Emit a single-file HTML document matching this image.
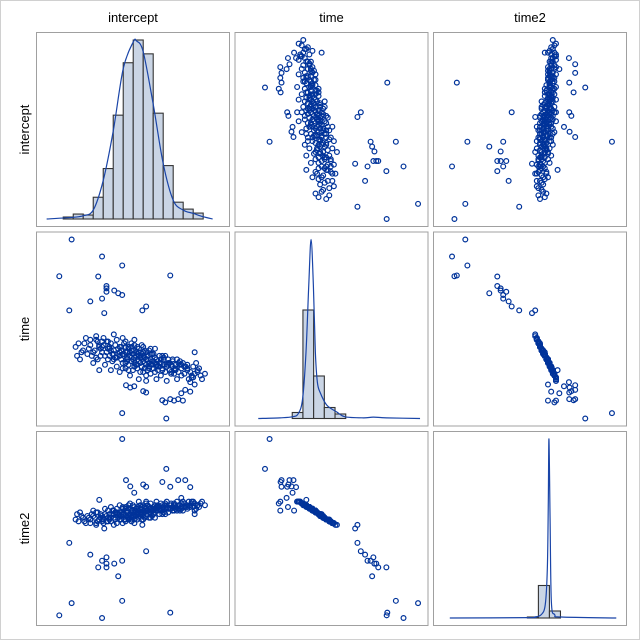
<!DOCTYPE html>
<html><head><meta charset="utf-8"><style>
html,body{margin:0;padding:0;background:#fff}
svg{display:block;font-family:"Liberation Sans",sans-serif}
</style></head><body>
<svg id="chart" width="640" height="640" viewBox="0 0 640 640" xmlns="http://www.w3.org/2000/svg">
<rect x="0.5" y="0.5" width="639" height="639" fill="#fff" stroke="#d0d0d0"/>
<g id="panels"></g>
</svg>
<script>
// variable names
const varNames = ["intercept","time","time2"];
// observations (normalized values)
const interceptVals = [0.093,0.30,0.437,0.009,0.274,0.764,0.33,0.33,0.33,0.383,0.41,0.437,0.30,0.22,0.60,0.077,0.574,0.315,0.281,0.437,0.737,0.764,0.818,0.71,0.58,0.60,0.839,0.866,0.90,0.463,0.492,0.519,
0.12,0.18,0.20,0.22,0.25,0.27,0.28,0.30,0.31,0.32,0.34,0.35,0.36,0.37,0.38,0.39,0.40,0.40,0.41,0.42,0.43,0.43,0.44,0.45,0.45,0.46,0.47,0.47,0.48,0.48,0.49,0.50,0.50,0.51,0.51,0.52,0.52,0.53,0.53,0.54,0.54,0.55,0.55,0.56,0.56,0.57,0.57,0.58,0.58,0.59,0.59,0.60,0.60,0.61,0.61,0.62,0.62,0.63,0.63,0.64,0.64,0.65,0.65,0.66,0.66,0.67,0.68,0.68,0.69,0.70,0.70,0.71,0.72,0.73,0.74,0.75,0.76,0.77,0.78,0.79,0.80,0.82,0.84,0.86,0.88,0.90,0.93,0.97,0.15,0.17,0.24,0.26,0.29,0.33,0.36,0.38,0.42,0.44,0.46,0.49,0.52,0.55,0.57,0.60,0.63,0.67,0.71,0.74,0.78,0.81,0.85,0.89,0.92,0.95,1.00,0.93,0.90,0.85,0.93,0.79,0.73,
0.45,0.47,0.49,0.51,0.53,0.55,0.57,0.59,0.61,0.63,0.41,0.39,0.37,0.35,0.33,0.31,0.29,0.27,0.65,0.67,0.69,0.72,0.75,0.77,0.80,0.83,0.44,0.48,0.52,0.56,0.60,0.46,0.50,0.54,0.58,0.62,0.21,0.23,0.19,
0.24,0.28,0.32,0.36,0.40,0.44,0.48,0.52,0.56,0.60,0.64,0.68,0.72,0.76,0.80,0.84,0.88,0.26,0.30,0.34,0.38,0.42,0.46,0.50,0.54,0.58,0.62,0.66,0.70,0.74,0.78,0.82,0.86,0.91,0.35,0.39,0.43,0.47,0.51,0.55,0.59,0.63,0.67,0.71,0.75,0.79,0.83,0.87,0.91,0.95,0.98,0.96,0.94,0.92,0.88,0.84,0.81,0.77,0.73,0.69,0.66,0.62,0.58,0.54,0.50,0.46,0.42,0.38,0.34,0.30,0.26,0.22,0.16,0.14,0.13];
const timeVals = [1.0,0.905,0.855,0.795,0.793,0.799,0.74,0.727,0.708,0.715,0.70,0.69,0.67,0.654,0.626,0.604,0.604,0.589,0.27,0.03,0.0,0.108,0.108,0.102,0.153,0.145,0.141,0.16,0.203,0.186,0.173,0.18,
0.40,0.42,0.36,0.44,0.38,0.33,0.41,0.37,0.45,0.30,0.39,0.35,0.42,0.32,0.38,0.34,0.44,0.29,0.36,0.40,0.33,0.38,0.31,0.35,0.42,0.28,0.37,0.33,0.40,0.30,0.35,0.38,0.32,0.27,0.36,0.41,0.34,0.30,0.37,0.33,0.28,0.35,0.39,0.31,0.34,0.29,0.36,0.32,0.26,0.34,0.38,0.30,0.33,0.27,0.35,0.31,0.29,0.33,0.25,0.30,0.36,0.28,0.32,0.26,0.34,0.30,0.27,0.32,0.29,0.24,0.31,0.28,0.33,0.26,0.29,0.31,0.27,0.25,0.29,0.27,0.30,0.26,0.28,0.25,0.27,0.26,0.25,0.24,0.33,0.38,0.31,0.46,0.35,0.43,0.27,0.47,0.26,0.45,0.40,0.24,0.44,0.22,0.41,0.21,0.39,0.22,0.35,0.21,0.32,0.22,0.31,0.22,0.29,0.27,0.25,0.19,0.15,0.10,0.37,0.10,0.09,
0.36,0.34,0.37,0.33,0.35,0.32,0.34,0.31,0.33,0.30,0.39,0.41,0.36,0.40,0.37,0.41,0.39,0.43,0.36,0.33,0.35,0.30,0.33,0.30,0.28,0.30,0.28,0.27,0.29,0.26,0.24,0.43,0.42,0.40,0.37,0.38,0.39,0.35,0.45,
0.37,0.40,0.35,0.38,0.34,0.36,0.39,0.31,0.35,0.37,0.32,0.29,0.34,0.31,0.27,0.30,0.28,0.34,0.43,0.33,0.36,0.37,0.31,0.40,0.36,0.35,0.29,0.31,0.33,0.30,0.33,0.31,0.29,0.24,0.39,0.34,0.40,0.32,0.38,0.37,0.28,0.36,0.29,0.27,0.30,0.25,0.32,0.29,0.23,0.26,0.22,0.28,0.31,0.23,0.30,0.24,0.33,0.26,0.35,0.31,0.39,0.28,0.40,0.30,0.34,0.37,0.35,0.33,0.43,0.40,0.44,0.41,0.37,0.42,0.35];
const time2Vals = [0.083,0.0,0.096,0.015,0.283,0.03,0.283,0.304,0.339,0.304,0.233,0.32,0.32,0.354,0.373,0.42,0.52,0.50,0.66,1.0,0.833,0.733,0.77,0.76,0.746,0.733,0.671,0.77,0.731,0.77,0.735,0.70,
0.55,0.54,0.57,0.53,0.56,0.59,0.55,0.57,0.53,0.61,0.56,0.58,0.54,0.60,0.56,0.59,0.53,0.61,0.58,0.55,0.59,0.57,0.61,0.58,0.55,0.62,0.57,0.60,0.55,0.61,0.58,0.56,0.60,0.63,0.57,0.55,0.59,0.61,0.57,0.59,0.62,0.58,0.56,0.61,0.59,0.62,0.58,0.60,0.63,0.59,0.56,0.61,0.60,0.63,0.58,0.61,0.62,0.59,0.64,0.61,0.57,0.62,0.60,0.63,0.59,0.61,0.63,0.60,0.62,0.64,0.61,0.62,0.59,0.63,0.62,0.61,0.63,0.64,0.62,0.63,0.61,0.63,0.62,0.64,0.63,0.63,0.64,0.64,0.59,0.56,0.60,0.52,0.58,0.54,0.62,0.52,0.63,0.53,0.55,0.64,0.53,0.65,0.55,0.65,0.56,0.65,0.58,0.65,0.60,0.65,0.60,0.65,0.62,0.63,0.63,0.60,0.62,0.65,0.58,0.60,0.64,
0.58,0.59,0.57,0.60,0.58,0.60,0.59,0.61,0.60,0.61,0.56,0.55,0.58,0.55,0.57,0.55,0.56,0.54,0.58,0.60,0.58,0.61,0.59,0.61,0.62,0.61,0.62,0.63,0.62,0.63,0.64,0.54,0.54,0.55,0.57,0.56,0.56,0.58,0.53,
0.57,0.55,0.58,0.56,0.59,0.58,0.56,0.60,0.58,0.57,0.60,0.62,0.59,0.61,0.63,0.61,0.62,0.59,0.54,0.60,0.58,0.57,0.61,0.55,0.58,0.58,0.62,0.61,0.60,0.61,0.60,0.61,0.62,0.64,0.56,0.59,0.55,0.60,0.57,0.57,0.62,0.58,0.62,0.63,0.61,0.64,0.60,0.62,0.65,0.63,0.65,0.62,0.61,0.65,0.61,0.64,0.60,0.63,0.58,0.61,0.56,0.62,0.55,0.61,0.59,0.57,0.58,0.60,0.54,0.55,0.53,0.55,0.57,0.54,0.58];
// x-axis domains per column (normalized units)
const xDomIntercept = [-0.095,1.116];
const xDomTime = [-0.147,1.016];
const xDomTime2 = [-0.069,1.044];
// histogram bins: start, width, percents
const hist1Start = 0.036, hist1Width = 0.068;
const hist1Pct = [0.2,0.5,0.4,2.2,5.1,10.5,15.8,18.1,16.7,10.7,5.4,1.7,1.0,0.6];
const hist2Start = 0.178, hist2Width = 0.0699;
const hist2Pct = [1.2,21.7,8.5,2.2,0.9];
const hist3Start = 0.471, hist3Width = 0.069;
const hist3Pct = [0.2,6.5,1.4];
// density curves
const kde1X = [-0.077,0.104,0.172,0.240,0.308,0.376,0.444,0.512,0.535,0.580,0.648,0.716,0.784,0.852,0.920,0.988,1.052];
const kde1Y = [0,0.17,0.33,0.9,3.9,8.9,15.2,17.9,18.0,16.9,11.6,5.6,1.9,0.9,0.57,0.23,0];
const kde2X = [-0.044,0.098,0.178,0.218,0.246,0.268,0.286,0.301,0.316,0.329,0.342,0.359,0.403,0.469,0.523,0.643,0.708,0.795,1.013];
const kde2Y = [0,0.13,0.33,1,4,13.3,26.7,35.8,26.7,13.3,7.3,5.3,2.7,1.3,0.33,0.13,0.27,0.13,0];
const kde3X = [-0.014,0.475,0.517,0.558,0.583,0.596,0.602,0.606,0.613,0.621,0.642,0.683,1.027];
const kde3Y = [0,0.07,0.2,0.67,2.7,10,23.3,35.8,20,3.3,0.67,0.2,0];

const NS = "http://www.w3.org/2000/svg";
const root = document.getElementById("panels");
const PX = [36,234.5,433], PY = [32,231.5,431], W = 194, H = 195, PAD = 8;
const data = [interceptVals, timeVals, time2Vals];
const xDoms = [xDomIntercept, xDomTime, xDomTime2];
const hists = [[hist1Start,hist1Width,hist1Pct],[hist2Start,hist2Width,hist2Pct],[hist3Start,hist3Width,hist3Pct]];
const kdes = [[kde1X,kde1Y],[kde2X,kde2Y],[kde3X,kde3Y]];

function mk(tag, attrs, parent){const e=document.createElementNS(NS,tag);for(const k in attrs)e.setAttribute(k,attrs[k]);(parent||root).appendChild(e);return e;}
function xScale(j,v){const d=xDoms[j];return PX[j]+PAD+(v-d[0])/(d[1]-d[0])*(W-2*PAD);}
function yScaleData(i,v){const arr=data[i];const mn=Math.min(...arr),mx=Math.max(...arr);return PY[i]+H-PAD-(v-mn)/(mx-mn)*(H-2*PAD);}

for(let j=0;j<3;j++){
  const t=mk("text",{x:PX[j]+W/2,y:22,"text-anchor":"middle","font-size":"13",fill:"#000"});
  
  
  t.textContent=varNames[j];
}
for(let i=0;i<3;i++){
  const cy=PY[i]+H/2;
  const t=mk("text",{x:29,y:cy,"text-anchor":"middle","font-size":"13",fill:"#000",transform:`rotate(-90 29 ${cy})`});
  
  
  t.textContent=varNames[i];
}

for(let i=0;i<3;i++){
  for(let j=0;j<3;j++){
    const g=mk("g",{});
    
    
    const fr=mk("rect",{x:PX[j]+0.5,y:PY[i]+0.5,width:W-1,height:H-1,fill:"#fff",stroke:"#a0a0a0","stroke-width":1},g);
    
    
    if(i===j){
      const [st,wd,pct]=hists[i];const [kx,ky]=kdes[i];
      const ymax=Math.max(...pct,...ky);
      const base=PY[i]+H-PAD;const hsc=v=>base-v/ymax*(H-2*PAD);
      pct.forEach((p,k)=>{
        const x0=xScale(j,st+k*wd),x1=xScale(j,st+(k+1)*wd);
        const r=mk("rect",{x:x0,y:hsc(p),width:x1-x0,height:base-hsc(p),fill:"#cad5e5",stroke:"#333","stroke-width":1.1},g);
        
        
      });
      const pts=kx.map((x,k)=>[xScale(j,x),hsc(ky[k])]);
      let d=`M${pts[0][0]},${pts[0][1]}`;
      for(let k=0;k<pts.length-1;k++){
        const p0=pts[Math.max(0,k-1)],p1=pts[k],p2=pts[k+1],p3=pts[Math.min(pts.length-1,k+2)];
        const c1=[p1[0]+(p2[0]-p0[0])/6,p1[1]+(p2[1]-p0[1])/6];
        const c2=[p2[0]-(p3[0]-p1[0])/6,p2[1]-(p3[1]-p1[1])/6];
        c1[1]=Math.min(c1[1],base);c2[1]=Math.min(c2[1],base);
        d+=` C${c1[0]},${c1[1]} ${c2[0]},${c2[1]} ${p2[0]},${p2[1]}`;
      }
      const c=mk("path",{d:d,fill:"none",stroke:"#1a45a8","stroke-width":1.2},g);
      
      
    } else {
      const xs=data[j],ys=data[i];
      for(let k=0;k<xs.length;k++){
        const m=mk("circle",{cx:xScale(j,xs[k]),cy:yScaleData(i,ys[k]),r:2.4,fill:"none",stroke:"#00339a","stroke-width":1.2},g);
        
        
      }
    }
  }
}
</script>
</body></html>
